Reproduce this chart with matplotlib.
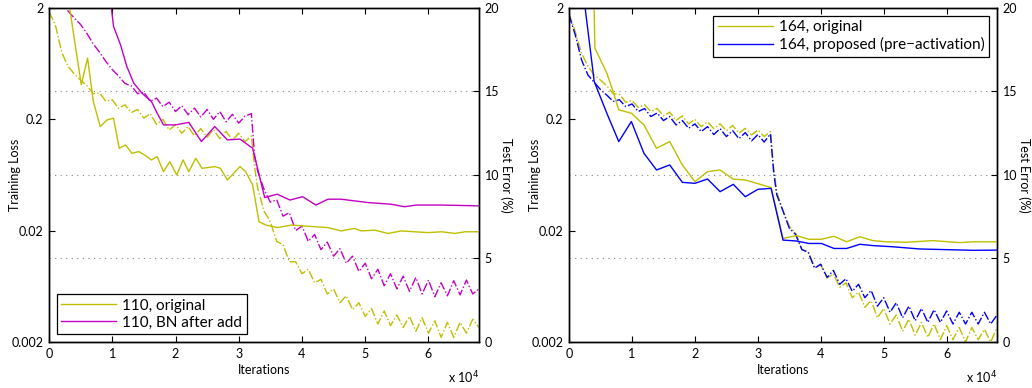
import matplotlib
matplotlib.use("Agg")
import matplotlib.pyplot as plt
import numpy as np
from matplotlib.ticker import FixedLocator, FuncFormatter, NullLocator

plt.rcParams['font.family'] = ['Lato', 'DejaVu Sans']

# iterations (x 1e4) for the training-loss curves
train_iter = [0.0, 0.1, 0.2, 0.3, 0.4, 0.5, 0.6, 0.7, 0.8, 0.9, 1.0, 1.1, 1.2, 1.3, 1.4, 1.5,
              1.6, 1.7, 1.8, 1.9, 2.0, 2.1, 2.2, 2.3, 2.4, 2.5, 2.6, 2.7, 2.8, 2.9, 3.0, 3.1,
              3.2, 3.25, 3.3, 3.4, 3.5, 3.6, 3.7, 3.8, 3.9, 4.0, 4.1, 4.2, 4.3, 4.4, 4.5, 4.6,
              4.7, 4.8, 4.9, 5.0, 5.1, 5.2, 5.3, 5.4, 5.5, 5.6, 5.7, 5.8, 5.9, 6.0, 6.1, 6.2,
              6.3, 6.4, 6.5, 6.6, 6.7, 6.8]

# left panel: training loss
train_110_orig = [1.85, 1.41, 0.80, 0.60, 0.51, 0.45, 0.40, 0.34, 0.345, 0.29, 0.30, 0.25, 0.27,
                  0.23, 0.245, 0.205, 0.225, 0.18, 0.20, 0.16, 0.18, 0.15, 0.172, 0.142, 0.165,
                  0.138, 0.162, 0.134, 0.156, 0.130, 0.150, 0.126, 0.142, 0.075, 0.048, 0.030,
                  0.024, 0.016, 0.0150, 0.0105, 0.0105, 0.0082, 0.0090, 0.0068, 0.0073, 0.0054,
                  0.0060, 0.0045, 0.0052, 0.0039, 0.0045, 0.0034, 0.0040, 0.0029, 0.0038, 0.0028,
                  0.0035, 0.0027, 0.0034, 0.0025, 0.0033, 0.0024, 0.0031, 0.0022, 0.0030, 0.0022,
                  0.0030, 0.0024, 0.0032, 0.0027]
train_110_bnadd = [3.0, 2.6, 2.2, 1.88, 1.62, 1.42, 1.18, 0.95, 0.80, 0.66, 0.56, 0.49, 0.42,
                   0.40, 0.34, 0.35, 0.29, 0.31, 0.26, 0.285, 0.235, 0.265, 0.22, 0.252, 0.21,
                   0.245, 0.20, 0.235, 0.19, 0.222, 0.185, 0.214, 0.225, 0.095, 0.068, 0.047,
                   0.036, 0.038, 0.027, 0.029, 0.020, 0.022, 0.016, 0.0185, 0.0135, 0.0158,
                   0.0118, 0.0138, 0.0102, 0.0118, 0.0086, 0.0102, 0.0074, 0.0090, 0.0064, 0.0082,
                   0.0060, 0.0078, 0.0057, 0.0076, 0.0054, 0.0072, 0.0051, 0.0068, 0.0052, 0.0071,
                   0.0053, 0.0072, 0.0054, 0.0060]

# left panel: test error (%)
test_iter_110_orig = [0.2, 0.33, 0.51, 0.61, 0.70, 0.81, 0.92, 1.02, 1.11, 1.21, 1.31, 1.42, 1.51,
                      1.62, 1.71, 1.81, 1.91, 2.02, 2.12, 2.21, 2.32, 2.42, 2.62, 2.71, 2.82, 3.02,
                      3.11, 3.22, 3.32, 3.43, 3.61, 3.83, 4.41, 4.62, 4.83, 4.94, 5.15, 5.36, 5.57,
                      5.78, 5.99, 6.21, 6.42, 6.58, 6.81]
test_110_orig = [23.3, 19.9, 15.4, 17.0, 14.4, 12.9, 13.3, 13.4, 11.6, 11.8, 11.3, 11.4, 11.2,
                 10.9, 11.1, 10.2, 10.8, 10.0, 10.9, 10.2, 11.0, 10.4, 10.5, 10.4, 9.7, 10.5,
                 10.2, 9.4, 7.2, 7.0, 6.85, 7.0, 6.85, 6.65, 6.8, 6.65, 6.7, 6.5, 6.65, 6.6,
                 6.55, 6.6, 6.5, 6.6, 6.6]
test_iter_110_bnadd = [0.8, 1.02, 1.13, 1.23, 1.34, 1.47, 1.62, 1.71, 1.81, 2.0, 2.21, 2.41, 2.62,
                       2.82, 3.02, 3.22, 3.41, 3.61, 3.81, 4.01, 4.22, 4.41, 4.62, 5.04, 5.41,
                       5.62, 5.81, 6.21, 6.81]
test_110_bnadd = [26.0, 18.9, 17.8, 16.5, 15.5, 14.9, 14.4, 13.7, 13.0, 13.0, 13.15, 12.0, 12.9,
                  12.1, 12.15, 11.6, 8.65, 8.85, 8.5, 8.7, 8.2, 8.55, 8.55, 8.35, 8.25, 8.1, 8.2,
                  8.2, 8.15]

# right panel: training loss
train_164_orig = [1.79, 1.22, 0.78, 0.60, 0.50, 0.45, 0.40, 0.34, 0.335, 0.285, 0.295, 0.255,
                  0.27, 0.235, 0.25, 0.215, 0.232, 0.195, 0.215, 0.182, 0.20, 0.172, 0.19, 0.165,
                  0.182, 0.158, 0.176, 0.150, 0.166, 0.145, 0.160, 0.140, 0.155, 0.075, 0.045,
                  0.030, 0.022, 0.019, 0.0135, 0.0130, 0.0095, 0.0098, 0.0075, 0.0082, 0.0062,
                  0.0068, 0.0050, 0.0056, 0.0041, 0.0047, 0.0033, 0.0040, 0.0029, 0.0035, 0.0025,
                  0.0032, 0.0023, 0.0030, 0.0022, 0.0029, 0.0021, 0.0028, 0.0021, 0.0027, 0.0020,
                  0.0027, 0.0021, 0.0026, 0.0020, 0.0027]
train_164_pre = [1.73, 1.14, 0.68, 0.50, 0.43, 0.37, 0.33, 0.29, 0.30, 0.26, 0.275, 0.235, 0.25,
                 0.212, 0.228, 0.195, 0.212, 0.178, 0.195, 0.166, 0.182, 0.155, 0.172, 0.146,
                 0.165, 0.140, 0.158, 0.134, 0.152, 0.128, 0.146, 0.125, 0.148, 0.068, 0.042,
                 0.030, 0.021, 0.0185, 0.0135, 0.0128, 0.0092, 0.0100, 0.0076, 0.0088, 0.0066,
                 0.0074, 0.0057, 0.0066, 0.0050, 0.0058, 0.0042, 0.0050, 0.0037, 0.0045, 0.0033,
                 0.0042, 0.0031, 0.0040, 0.0030, 0.0039, 0.0030, 0.0038, 0.0029, 0.0037, 0.0029,
                 0.0037, 0.0029, 0.0037, 0.0029, 0.0035]

# right panel: test error (%)
test_iter_164_orig = [0.2, 0.41, 0.6, 0.7, 0.79, 0.99, 1.19, 1.39, 1.6, 1.8, 2.0, 2.2, 2.4, 2.61,
                      2.8, 3.21, 3.4, 3.61, 3.81, 4.01, 4.21, 4.41, 4.62, 4.83, 5.04, 5.36, 5.78,
                      6.21, 6.42, 6.81]
test_164_orig = [60.0, 17.6, 16.1, 15.0, 13.9, 13.7, 13.0, 11.6, 12.0, 10.6, 9.6, 10.2, 10.3,
                 9.75, 9.7, 9.25, 6.2, 6.37, 6.15, 6.15, 6.33, 6.0, 6.3, 6.07, 6.0, 5.97, 6.07,
                 5.95, 6.0, 6.0]
test_iter_164_pre = [0.2, 0.4, 0.6, 0.79, 0.99, 1.19, 1.39, 1.6, 1.8, 2.0, 2.2, 2.4, 2.61, 2.8,
                     3.0, 3.21, 3.4, 3.61, 3.81, 4.01, 4.21, 4.41, 4.62, 4.83, 5.15, 5.57, 5.99,
                     6.42, 6.81]
test_164_pre = [21.7, 15.6, 13.7, 12.0, 13.2, 11.3, 10.3, 10.6, 9.56, 9.5, 9.76, 9.0, 9.44, 8.7,
                9.14, 9.2, 6.1, 6.05, 5.9, 5.9, 5.6, 5.6, 5.85, 5.77, 5.7, 5.57, 5.53, 5.49, 5.5]

YEL = '#bfbf00'
MAG = '#c400c4'
BLU = '#0000ff'

fig = plt.figure(figsize=(10.32, 3.88), dpi=100)


def panel(rect, curves, legend_loc):
    ax = fig.add_axes(rect)
    ax2 = ax.twinx()
    xs = np.array(train_iter) * 1e4
    handles = []
    for tr, ti, te, col, lab in curves:
        ax.plot(xs, tr, '-.', color=col, lw=1.0)
        h, = ax2.plot(np.array(ti) * 1e4, te, '-', color=col, lw=1.0, label=lab)
        handles.append(h)

    ax.set_yscale('log')
    ax.set_ylim(0.002, 2)
    ax.set_xlim(0, 6.8e4)
    ax.yaxis.set_major_locator(FixedLocator([0.002, 0.02, 0.2, 2]))
    ax.yaxis.set_minor_locator(NullLocator())
    ax.yaxis.set_major_formatter(FuncFormatter(lambda v, p: '%g' % v))
    ax.set_xticks(np.arange(0, 7) * 1e4)
    ax.xaxis.set_major_formatter(FuncFormatter(lambda v, p: '%d' % round(v / 1e4)))
    ax.tick_params(direction='in', length=4, width=0.8, labelsize=9, top=True, pad=4)

    ax2.set_ylim(0, 20)
    ax2.set_yticks([0, 5, 10, 15, 20])
    ax2.tick_params(direction='in', length=4, width=0.8, labelsize=9, pad=4)
    ax2.yaxis.grid(True, linestyle=(0, (1, 4)), color='#888888', lw=0.8)

    for a in (ax, ax2):
        for s in a.spines.values():
            s.set_linewidth(1.0)

    # axis labels placed by hand, like the reference
    ax.set_ylabel('Training Loss', fontsize=9, va='center')
    ax.yaxis.set_label_coords(-0.079, 0.5)
    ax.set_xlabel('Iterations', fontsize=9, va='center')
    ax.xaxis.set_label_coords(0.5, -0.085)
    ax2.set_ylabel('Test Error (%)', fontsize=9, rotation=270, va='center')
    ax2.yaxis.set_label_coords(1.064, 0.5)
    ax.text(1.0, -0.108, r'x 10$^4$', transform=ax.transAxes, ha='right', va='center', fontsize=9)

    leg = ax2.legend(handles=handles, loc=legend_loc, fontsize=11, fancybox=False,
                     edgecolor='black', framealpha=1, handlelength=3.6, borderpad=0.3,
                     labelspacing=0.2, handletextpad=0.4, borderaxespad=0.5)
    leg.get_frame().set_linewidth(0.9)
    return ax, ax2


panel([0.0475, 0.1186, 0.4167, 0.8608],
      [(train_110_orig, test_iter_110_orig, test_110_orig, YEL, '110, original'),
       (train_110_bnadd, test_iter_110_bnadd, test_110_bnadd, MAG, '110, BN after add')],
      'lower left')
panel([0.5514, 0.1186, 0.4147, 0.8608],
      [(train_164_orig, test_iter_164_orig, test_164_orig, YEL, '164, original'),
       (train_164_pre, test_iter_164_pre, test_164_pre, BLU, '164, proposed (pre\u2212activation)')],
      'upper right')

fig.savefig('out.png', dpi=100)
